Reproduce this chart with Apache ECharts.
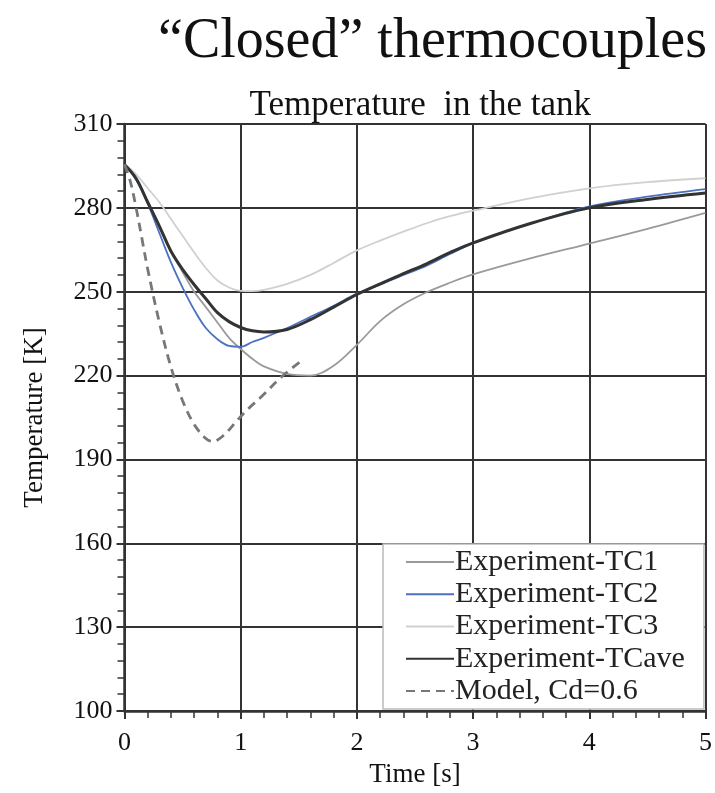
<!DOCTYPE html>
<html>
<head>
<meta charset="utf-8">
<script src="https://cdn.jsdelivr.net/npm/echarts@6/dist/echarts.min.js"></script>
<style>
html,body{margin:0;padding:0;background:#fff;}
#chart{width:715px;height:793px;}
</style>
</head>
<body>
<div id="chart"></div>
<script>
// ---- data ----
const mainTitle = '\u201CClosed\u201D thermocouples';
const subTitle = 'Temperature  in the tank';
const xName = 'Time [s]';
const yName = 'Temperature [K]';
const seriesNames = ['Experiment-TC1', 'Experiment-TC2', 'Experiment-TC3', 'Experiment-TCave', 'Model, Cd=0.6'];

const expTime = [0, 0.1, 0.2, 0.3, 0.4, 0.5, 0.6, 0.7, 0.8, 0.9, 1.0, 1.1, 1.2, 1.4, 1.6, 1.8, 2.0, 2.2, 2.4, 2.6, 2.8, 3.0, 3.5, 4.0, 4.5, 5.0];
const tc1 = [295.5, 290.5, 282, 273, 264.5, 257, 250, 244.5, 239, 233.5, 229.5, 226, 223.3, 220.6, 220, 223.5, 231, 239.5, 245.5, 249.8, 253.2, 256.2, 262, 267.2, 272.5, 278.2];
const tc2 = [295.5, 290, 281.5, 271, 260.5, 251.5, 243.5, 237, 233, 230.6, 230.3, 232, 233.5, 237, 241, 245, 249.3, 252.5, 256, 259.3, 263.5, 267.3, 274.5, 280.5, 284, 286.7];
const tc3 = [295.5, 292, 287, 282, 276, 270, 264, 258.5, 254, 251.5, 250.3, 250.2, 250.7, 252.8, 256, 260.3, 264.8, 268.3, 271.5, 274.5, 277, 279, 283.5, 287, 289.2, 290.6];
const tcave = [295.5, 290.5, 282, 273.5, 264.5, 258, 252.5, 247.5, 242.5, 239.3, 237.2, 236, 235.6, 236.5, 240, 244.5, 249, 252.8, 256.5, 260, 264, 267.5, 274.5, 280, 283, 285.3];

const modelTime = [0, 0.05, 0.1, 0.15, 0.2, 0.3, 0.4, 0.5, 0.6, 0.7, 0.76, 0.85, 0.95, 1.05, 1.2, 1.35, 1.52];
const model = [295.5, 289.5, 280, 269, 258, 239, 223, 211, 202.5, 197.5, 196.4, 198.5, 203, 207.5, 213.3, 219.5, 225.2];

const xTicks = [0, 1, 2, 3, 4, 5];
const yTicks = [100, 130, 160, 190, 220, 250, 280, 310];

// ---- chart ----
const pair = (xs, ys) => xs.map((x, i) => [x, ys[i]]);
const FONT = '"Liberation Serif", "DejaVu Serif", serif';
const chart = echarts.init(document.getElementById('chart'), null, {renderer: 'canvas'});

const gridLeft = 124.5, gridTop = 124, gridW = 581.5, gridH = 589;

function lineSeries(name, xs, ys, color, width, type, z) {
  return {
    name: name, type: 'line', data: pair(xs, ys), showSymbol: false, symbol: 'none',
    smooth: 0.35, z: z,
    lineStyle: {color: color, width: width, type: type},
    itemStyle: {color: color}
  };
}

const option = {
  backgroundColor: '#fff',
  animation: false,
  title: [
    {text: mainTitle, right: 3, top: 9, textStyle: {fontFamily: FONT, fontSize: 56, fontWeight: 'normal', color: '#111'}},
    {text: subTitle, left: gridLeft + gridW / 2, textAlign: 'center', top: 83, textStyle: {fontFamily: FONT, fontSize: 35, fontWeight: 'normal', color: '#111'}}
  ],
  grid: {left: gridLeft, top: gridTop, width: gridW, height: gridH, show: false},
  xAxis: {
    type: 'value', min: xTicks[0], max: xTicks[xTicks.length - 1], interval: 1,
    name: xName, nameLocation: 'middle', nameGap: 50,
    nameTextStyle: {fontFamily: FONT, fontSize: 27, color: '#111'},
    axisLine: {show: true, onZero: false, lineStyle: {color: '#333', width: 2.5}},
    axisTick: {show: true, inside: false, length: 8, lineStyle: {color: '#333', width: 2}},
    minorTick: {show: true, splitNumber: 5, length: 7, lineStyle: {color: '#333', width: 1.5}},
    splitLine: {show: true, lineStyle: {color: '#333', width: 2}},
    axisLabel: {fontFamily: FONT, fontSize: 26, color: '#111', margin: 19}
  },
  yAxis: {
    type: 'value', min: yTicks[0], max: yTicks[yTicks.length - 1], interval: 30,
    name: yName, nameLocation: 'middle', nameGap: 76, nameRotate: 90,
    nameTextStyle: {fontFamily: FONT, fontSize: 27, color: '#111'},
    axisLine: {show: true, onZero: false, lineStyle: {color: '#333', width: 2.5}},
    axisTick: {show: true, inside: false, length: 8, lineStyle: {color: '#333', width: 2}},
    minorTick: {show: true, splitNumber: 5, length: 7, lineStyle: {color: '#333', width: 1.5}},
    splitLine: {show: true, lineStyle: {color: '#333', width: 2}},
    axisLabel: {fontFamily: FONT, fontSize: 26, color: '#111', margin: 12}
  },
  legend: {
    orient: 'vertical', left: 383, top: 544,
    itemWidth: 48, itemHeight: 14, itemGap: 2.25,
    padding: [3, 19, 3, 22],
    backgroundColor: '#fff', borderColor: '#bbb', borderWidth: 1.5,
    itemStyle: {opacity: 0},
    textStyle: {fontFamily: FONT, fontSize: 30, lineHeight: 30, color: '#222', padding: [0, 0, 0, -4]},
    data: seriesNames
  },
  series: [
    lineSeries(seriesNames[0], expTime, tc1, '#9a9a9a', 1.8, 'solid', 2),
    lineSeries(seriesNames[1], expTime, tc2, '#4a72c0', 1.8, 'solid', 3),
    lineSeries(seriesNames[2], expTime, tc3, '#d0d0d0', 1.8, 'solid', 1),
    lineSeries(seriesNames[3], expTime, tcave, '#333333', 3, 'solid', 4),
    lineSeries(seriesNames[4], modelTime, model, '#777777', 2.8, [9, 6], 5)
  ]
};
chart.setOption(option);
</script>
</body>
</html>
